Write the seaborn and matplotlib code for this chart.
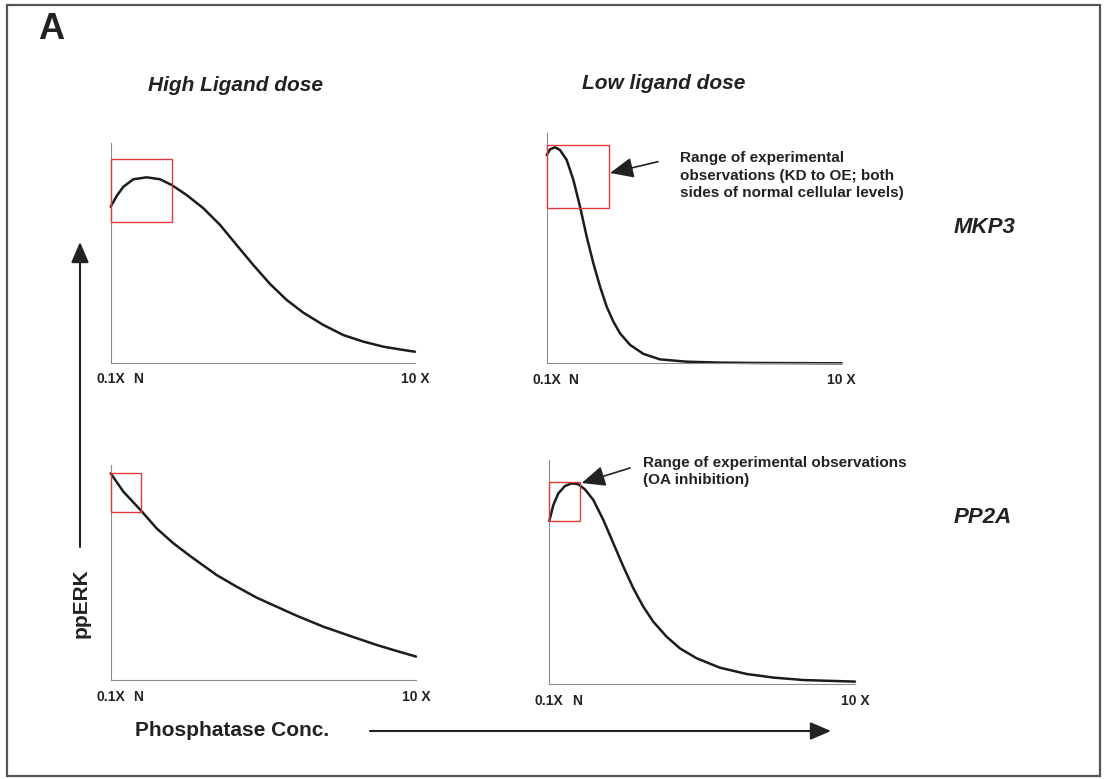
import matplotlib
matplotlib.use("Agg")
import matplotlib.pyplot as plt
from matplotlib.patches import Rectangle
import seaborn as sns
import pandas as pd

# ---------------- data ----------------
tick_values = [0.1, 1.0, 10.0]
tick_labels = ["0.1X", "N", "10 X"]

col_titles = ["High Ligand dose", "Low ligand dose"]
row_titles = ["MKP3", "PP2A"]

# High ligand dose, MKP3
high_mkp3_x = [0.1, 0.295, 0.512, 0.837, 1.271, 1.705, 2.084, 2.572, 3.114, 3.657,
               4.199, 4.741, 5.283, 5.825, 6.367, 7.018, 7.668, 8.319, 8.97, 9.62, 10.0]
high_mkp3_y = [0.711, 0.760, 0.802, 0.836, 0.845, 0.836, 0.810, 0.764, 0.704, 0.628,
               0.536, 0.445, 0.359, 0.286, 0.228, 0.172, 0.126, 0.096, 0.073, 0.058, 0.050]

# Low ligand dose, MKP3
low_mkp3_x = [0.1, 0.212, 0.38, 0.547, 0.771, 0.995, 1.219, 1.442, 1.666, 1.89,
              2.113, 2.337, 2.561, 2.897, 3.344, 3.903, 4.798, 5.917, 7.036, 10.0]
low_mkp3_y = [0.904, 0.929, 0.938, 0.926, 0.883, 0.796, 0.680, 0.550, 0.434, 0.333,
              0.246, 0.181, 0.130, 0.080, 0.041, 0.017, 0.007, 0.003, 0.0015, 0.0]

# High ligand dose, PP2A
high_pp2a_x = [0.1, 0.511, 1.083, 1.591, 2.132, 2.672, 3.537, 4.185, 4.834, 5.482,
               6.131, 6.995, 7.86, 8.725, 9.373, 10.0]
high_pp2a_y = [0.961, 0.876, 0.788, 0.705, 0.636, 0.577, 0.488, 0.434, 0.383, 0.341,
               0.299, 0.248, 0.205, 0.163, 0.135, 0.109]

# Low ligand dose, PP2A
low_pp2a_x = [0.1, 0.23, 0.391, 0.607, 0.823, 1.039, 1.255, 1.525, 1.849, 2.173,
              2.497, 2.821, 3.144, 3.468, 3.9, 4.332, 4.872, 5.627, 6.491, 7.355, 8.327, 10.0]
low_pp2a_y = [0.728, 0.799, 0.851, 0.884, 0.896, 0.892, 0.869, 0.822, 0.733, 0.629,
              0.525, 0.428, 0.346, 0.279, 0.212, 0.160, 0.116, 0.074, 0.046, 0.030, 0.019, 0.012]

# red "range of experimental observations" boxes: (x0, x1, y0, y1)
box_high_mkp3 = [0.1, 2.08, 0.640, 0.929]
box_low_mkp3 = [0.1, 2.20, 0.673, 0.948]
box_high_pp2a = [0.1, 1.083, 0.783, 0.964]
box_low_pp2a = [0.1, 1.093, 0.728, 0.903]

note_mkp3 = "Range of experimental\nobservations (KD to OE; both\nsides of normal cellular levels)"
note_pp2a = "Range of experimental observations\n(OA inhibition)"

# ---------------- figure ----------------
W, H = 1104, 779
sns.set_theme(style="white")
plt.rcParams["font.family"] = ["Liberation Sans", "DejaVu Sans"]

fig = plt.figure(figsize=(W / 100, H / 100), dpi=100)
fig.patch.set_facecolor("white")

TXT = "#222222"
LINE = "#1c1c1c"
SPINE = "#8c8c8c"
RED = "#e23a3a"


def px_axes(l, t, r, b):
    return fig.add_axes([l / W, 1 - b / H, (r - l) / W, (b - t) / H])


panels = [
    ((110.7, 143.3, 415.0, 362.7), high_mkp3_x, high_mkp3_y, box_high_mkp3),
    ((546.7, 133.0, 841.7, 363.3), low_mkp3_x, low_mkp3_y, box_low_mkp3),
    ((110.7, 465.0, 416.0, 680.0), high_pp2a_x, high_pp2a_y, box_high_pp2a),
    ((549.3, 460.0, 855.0, 684.3), low_pp2a_x, low_pp2a_y, box_low_pp2a),
]

for rect, xs, ys, box in panels:
    ax = px_axes(*rect)
    ax.patch.set_alpha(0)
    df = pd.DataFrame({"conc": xs, "ppERK": ys})
    sns.lineplot(data=df, x="conc", y="ppERK", ax=ax, color=LINE, lw=1.8,
                 estimator=None, sort=False)
    for ln in ax.lines:
        ln.set_clip_on(False)
        ln.set_solid_joinstyle("round")
    x0, x1, y0, y1 = box
    ax.add_patch(Rectangle((x0, y0), x1 - x0, y1 - y0, fill=False, ec=RED,
                           lw=1.0, clip_on=False, zorder=3))
    ax.set_xlim(0.1, 10)
    ax.set_ylim(0, 1)
    ax.set_xlabel("")
    ax.set_ylabel("")
    ax.set_yticks([])
    ax.set_xticks(tick_values)
    ax.set_xticklabels(tick_labels, fontsize=10, fontweight="bold", color=TXT)
    ax.tick_params(axis="x", length=3, width=0.8, color=SPINE, pad=4, direction="out")
    for s in ["top", "right"]:
        ax.spines[s].set_visible(False)
    for s in ["left", "bottom"]:
        ax.spines[s].set_color(SPINE)
        ax.spines[s].set_linewidth(0.8)

# overlay in pixel coordinates for the decorations
ov = fig.add_axes([0, 0, 1, 1])
ov.set_xlim(0, W)
ov.set_ylim(H, 0)
ov.axis("off")
ov.patch.set_alpha(0)

ov.add_patch(Rectangle((7, 5), 1093, 771, fill=False, ec="#555555", lw=1.6))

ov.text(38, 39, "A", fontsize=26, fontweight="bold", color=TXT, va="baseline", ha="left")
ov.text(235, 91, col_titles[0], fontsize=15, fontweight="bold", style="italic",
        color=TXT, ha="center", va="baseline")
ov.text(664, 89, col_titles[1], fontsize=15, fontweight="bold", style="italic",
        color=TXT, ha="center", va="baseline")
ov.text(985, 233, row_titles[0], fontsize=16, fontweight="bold", style="italic",
        color=TXT, ha="center", va="baseline")
ov.text(983, 523, row_titles[1], fontsize=16, fontweight="bold", style="italic",
        color=TXT, ha="center", va="baseline")

ov.text(81, 603, "ppERK", fontsize=15, fontweight="bold", color=TXT, rotation=90,
        ha="center", va="center")
ov.text(135, 731, "Phosphatase Conc.", fontsize=15, fontweight="bold", color=TXT,
        ha="left", va="center")

ov.annotate("", xy=(80, 242), xytext=(80, 547),
            arrowprops=dict(arrowstyle="-|>,head_length=0.7,head_width=0.3",
                            mutation_scale=18, lw=1.5, color="#222222",
                            shrinkA=0, shrinkB=0))
ov.annotate("", xy=(831, 731), xytext=(370, 731),
            arrowprops=dict(arrowstyle="-|>,head_length=0.7,head_width=0.3",
                            mutation_scale=18, lw=1.5, color="#222222",
                            shrinkA=0, shrinkB=0))

ov.text(680, 151, note_mkp3, fontsize=11, fontweight="bold", color=TXT,
        ha="left", va="top", linespacing=1.33)
ov.annotate("", xy=(610, 173), xytext=(658, 161.7),
            arrowprops=dict(arrowstyle="-|>,head_length=0.8,head_width=0.35",
                            mutation_scale=18, lw=1.2, color="#222222",
                            shrinkA=0, shrinkB=0))

ov.text(643, 456, note_pp2a, fontsize=11, fontweight="bold", color=TXT,
        ha="left", va="top", linespacing=1.3)
ov.annotate("", xy=(581.7, 483), xytext=(630, 468),
            arrowprops=dict(arrowstyle="-|>,head_length=0.8,head_width=0.35",
                            mutation_scale=18, lw=1.2, color="#222222",
                            shrinkA=0, shrinkB=0))

fig.savefig("out.png", dpi=100, facecolor="white")
